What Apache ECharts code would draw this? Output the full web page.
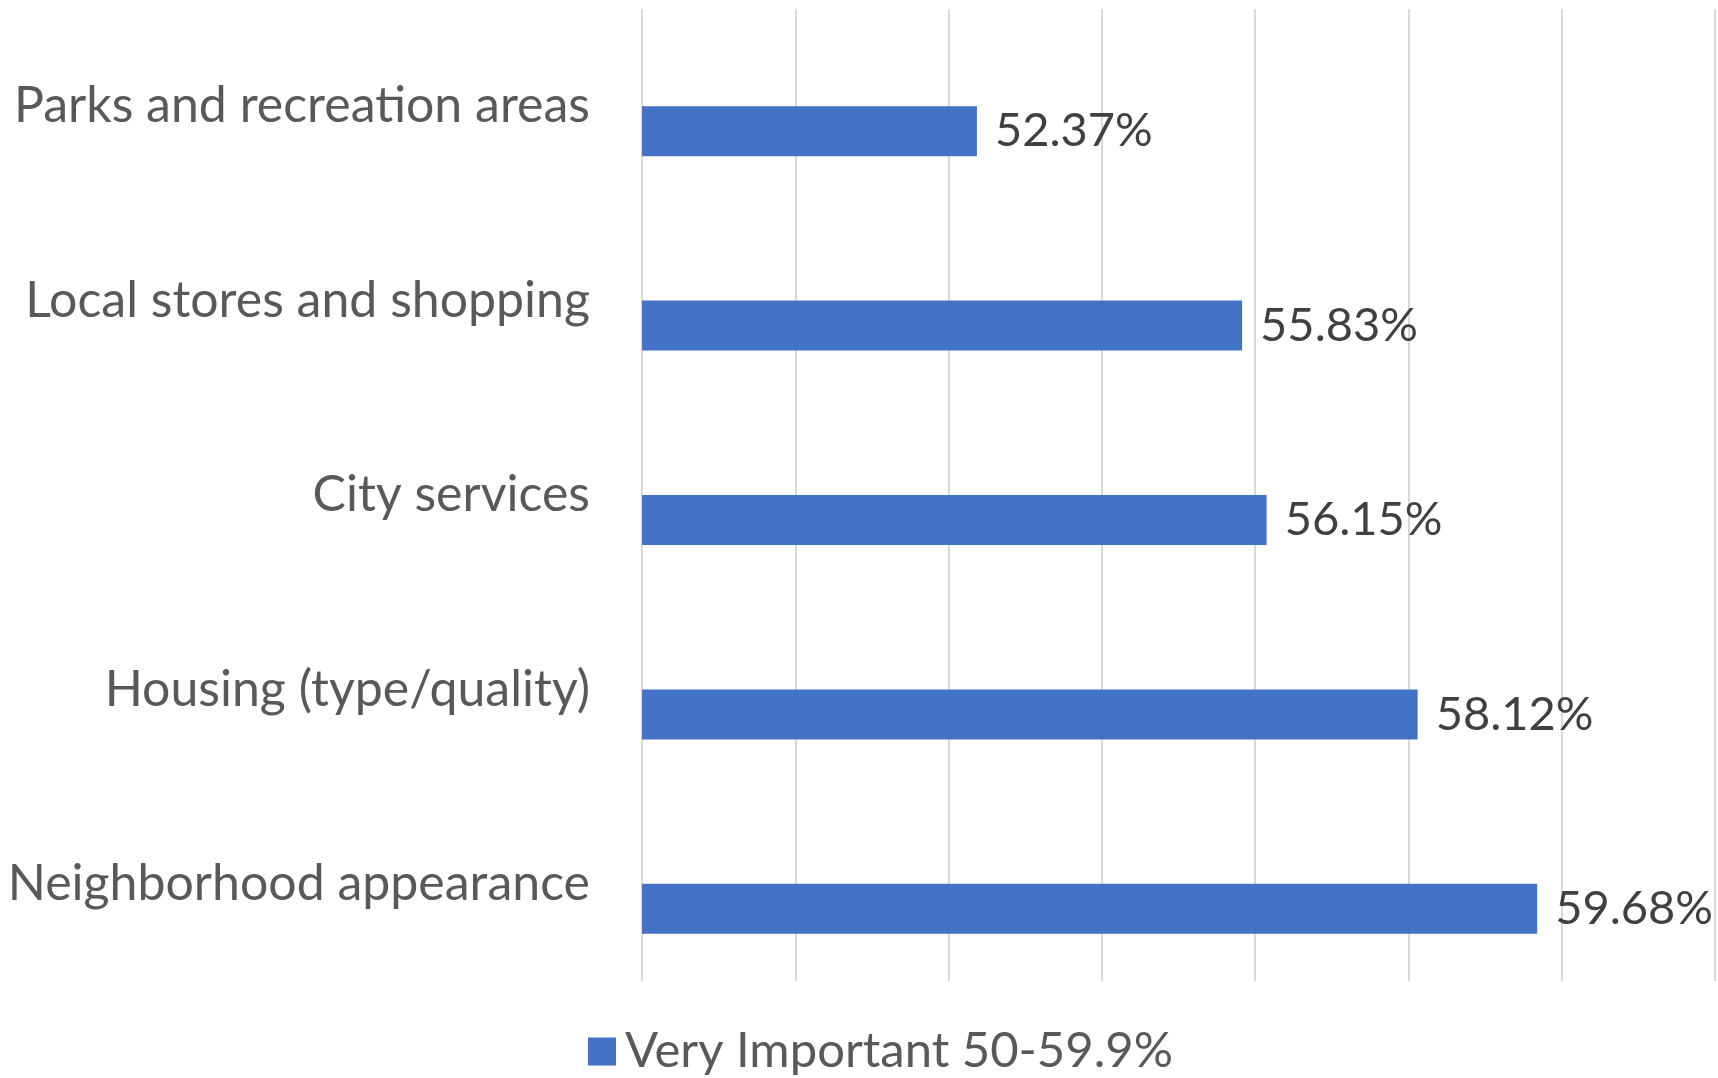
<!DOCTYPE html>
<html>
<head>
<meta charset="utf-8">
<script src="https://cdn.jsdelivr.net/npm/echarts@6/dist/echarts.min.js"></script>
<style>html,body{margin:0;padding:0;background:#fff}#c{width:1718px;height:1078px}</style>
</head>
<body>
<div id="c"></div>
<script>
const categories = ['Parks and recreation areas', 'Local stores and shopping', 'City services', 'Housing (type/quality)', 'Neighborhood appearance'];
const seriesName = 'Very Important 50-59.9%';
const values = [52.37, 55.83, 56.15, 58.12, 59.68];
const placeholder = [null, null, null, null, null];
const axisMin = 48, axisMax = 62, axisStep = 2;

const FONT = 'Lato, "Open Sans", sans-serif';
const chart = echarts.init(document.getElementById('c'), null, {renderer: 'canvas'});
chart.setOption({
  animation: false,
  backgroundColor: '#ffffff',
  grid: {left: 642, right: 3, top: 9, bottom: 97, containLabel: false},
  legend: {
    data: [seriesName],
    left: 583, top: 1022,
    itemWidth: 28, itemHeight: 28, itemGap: 10,
    icon: 'rect',
    textStyle: {fontFamily: FONT, fontSize: 49, color: '#595959', padding: [0,0,0,4]}
  },
  xAxis: {
    type: 'value', min: axisMin, max: axisMax, interval: axisStep,
    axisLine: {show: false}, axisTick: {show: false}, axisLabel: {show: false},
    splitLine: {show: true, lineStyle: {color: '#d9d9d9', width: 2}}
  },
  yAxis: {
    type: 'category', data: categories, inverse: true,
    axisLine: {show: false}, axisTick: {show: false},
    axisLabel: {fontFamily: FONT, fontSize: 50, color: '#595959', margin: 52}
  },
  series: [
    {type: 'bar', name: '', data: placeholder, barWidth: 50, barGap: '0%', silent: true},
    {type: 'bar', name: seriesName, data: values, barWidth: 50, barGap: '0%',
     itemStyle: {color: '#4472C4'},
     label: {show: true, position: 'right', distance: 18, fontFamily: FONT, fontSize: 47, color: '#404040',
             formatter: p => p.value.toFixed(2) + '%'}}
  ]
});
</script>
</body>
</html>
